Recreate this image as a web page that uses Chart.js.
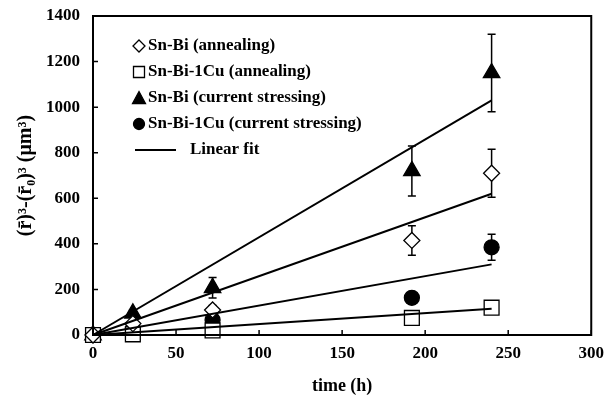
<!DOCTYPE html>
<html><head><meta charset="utf-8">
<script src="https://cdn.jsdelivr.net/npm/chart.js@4/dist/chart.umd.min.js"></script>
<style>html,body{margin:0;padding:0;background:#fff}#wrap{width:604px;height:401px}</style>
</head><body><div id="wrap"><canvas id="c" width="604" height="401"></canvas></div>
<script>
// ---- data ----
const times = [0, 24, 72, 192, 240];
const snBiAnneal = [0, 50, 110, 415, 710];
const snBiAnnealErr = [0, 10, 20, 65, 105];
const snBiCuAnneal = [0, 3, 20, 75, 120];
const snBiCuAnnealErr = [0, 0, 5, 8, 12];
const snBiCurrent = [0, 95, 207, 720, 1150];
const snBiCurrentErr = [0, 15, 45, 110, 170];
const snBiCuCurrent = [0, 26, 66, 163, 385];
const snBiCuCurrentErr = [0, 5, 10, 12, 57];
const fitX = [0, 240];
const fitSnBiAnneal = [0, 620];
const fitSnBiCuAnneal = [0, 115];
const fitSnBiCurrent = [0, 1030];
const fitSnBiCuCurrent = [0, 310];
const xTickLabels = ['0', '50', '100', '150', '200', '250', '300'];
const yTickLabels = ['0', '200', '400', '600', '800', '1000', '1200', '1400'];
const legendLabels = ['Sn-Bi (annealing)', 'Sn-Bi-1Cu (annealing)', 'Sn-Bi (current stressing)', 'Sn-Bi-1Cu (current stressing)', 'Linear fit'];
const xTitle = 'time (h)';
const yTitle = '(r\u0304)\u00b3-(r\u0304\u2080)\u00b3 (\u03bcm\u00b3)';

const SERIF = "'Liberation Serif', 'Times New Roman', serif";
const pts = (xs, ys) => xs.map((x, i) => ({x, y: ys[i]}));

const markerSets = [
  {label: legendLabels[0], ys: snBiAnneal, err: snBiAnnealErr, style: 'rectRot', r: 8, fill: '#fff'},
  {label: legendLabels[1], ys: snBiCuAnneal, err: snBiCuAnnealErr, style: 'rect', r: 10.5, fill: '#fff'},
  {label: legendLabels[2], ys: snBiCurrent, err: snBiCurrentErr, style: 'triangle', r: 9.5, fill: '#000'},
  {label: legendLabels[3], ys: snBiCuCurrent, err: snBiCuCurrentErr, style: 'circle', r: 7.5, fill: '#000'}
];
const fits = [fitSnBiAnneal, fitSnBiCuAnneal, fitSnBiCurrent, fitSnBiCuCurrent];

const datasets = [];
fits.forEach(f => datasets.push({
  type: 'line', data: pts(fitX, f), borderColor: '#000', borderWidth: 2,
  pointRadius: 0, fill: false, showLine: true, clip: false, order: 1
}));
markerSets.forEach(m => datasets.push({
  type: 'scatter', label: m.label, data: pts(times, m.ys), errs: m.err,
  pointStyle: m.style, pointRadius: m.r, pointHoverRadius: m.r,
  backgroundColor: m.fill, borderColor: '#000', borderWidth: 1.3,
  clip: false, order: 2
}));

const errorBars = {
  id: 'errorBars',
  beforeDatasetsDraw(chart) {
    const ctx = chart.ctx, xs = chart.scales.x, ys = chart.scales.y;
    ctx.save(); ctx.strokeStyle = '#000'; ctx.lineWidth = 1.5;
    chart.data.datasets.forEach(ds => {
      if (!ds.errs) return;
      ds.data.forEach((p, i) => {
        const e = ds.errs[i]; if (!e) return;
        const px = xs.getPixelForValue(p.x);
        const y1 = ys.getPixelForValue(p.y + e), y2 = ys.getPixelForValue(p.y - e);
        ctx.beginPath();
        ctx.moveTo(px, y1); ctx.lineTo(px, y2);
        ctx.moveTo(px - 4, y1); ctx.lineTo(px + 4, y1);
        ctx.moveTo(px - 4, y2); ctx.lineTo(px + 4, y2);
        ctx.stroke();
      });
    });
    ctx.restore();
  }
};

const frame = {
  id: 'frame',
  afterDraw(chart) {
    const ctx = chart.ctx, a = chart.chartArea, xs = chart.scales.x, ys = chart.scales.y;
    ctx.save(); ctx.strokeStyle = '#000'; ctx.lineWidth = 2;
    ctx.strokeRect(a.left, a.top, a.right - a.left, a.bottom - a.top);
    ctx.beginPath();
    xs.ticks.forEach(t => { const px = xs.getPixelForValue(t.value); ctx.moveTo(px, a.bottom); ctx.lineTo(px, a.bottom - 5); });
    ys.ticks.forEach(t => { const py = ys.getPixelForValue(t.value); ctx.moveTo(a.left, py); ctx.lineTo(a.left + 5, py); });
    ctx.lineWidth = 1.5; ctx.stroke();

    // legend (inside plot, upper left)
    const rows = [46, 72, 98, 124, 150];
    const mx = 139, tx = 148;
    ctx.font = 'bold 17px ' + SERIF; ctx.fillStyle = '#000'; ctx.textBaseline = 'middle'; ctx.textAlign = 'left';
    ctx.lineWidth = 1.3;
    markerSets.forEach((m, i) => {
      const y = rows[i];
      ctx.beginPath();
      if (m.style === 'rectRot') { const s = 6; ctx.moveTo(mx, y - s); ctx.lineTo(mx + s, y); ctx.lineTo(mx, y + s); ctx.lineTo(mx - s, y); ctx.closePath(); }
      else if (m.style === 'rect') { ctx.rect(mx - 5.5, y - 5.5, 11, 11); }
      else if (m.style === 'triangle') { ctx.moveTo(mx, y - 6.5); ctx.lineTo(mx + 6.5, y + 5.5); ctx.lineTo(mx - 6.5, y + 5.5); ctx.closePath(); }
      else { ctx.arc(mx, y, 5.5, 0, Math.PI * 2); }
      ctx.fillStyle = m.fill; ctx.fill(); ctx.strokeStyle = '#000'; ctx.stroke();
      ctx.fillStyle = '#000';
      ctx.fillText(m.label, tx, y);
    });
    ctx.beginPath(); ctx.lineWidth = 2; ctx.moveTo(135, rows[4]); ctx.lineTo(176, rows[4]); ctx.stroke();
    ctx.fillText(legendLabels[4], 190, rows[4]);
    ctx.restore();
  }
};

Chart.defaults.font.family = SERIF;
Chart.defaults.color = '#000';

new Chart(document.getElementById('c'), {
  data: {datasets},
  options: {
    responsive: false, animation: false, devicePixelRatio: 1,
    layout: {padding: {left: 0, right: 11, top: 16, bottom: 0}},
    plugins: {legend: {display: false}, tooltip: {enabled: false}},
    scales: {
      x: {
        type: 'linear', min: 0, max: 300,
        ticks: {stepSize: 50, padding: 0, font: {size: 17, weight: 'bold'}, color: '#000',
          callback: (v, i) => xTickLabels[i]},
        grid: {display: false}, border: {display: false},
        title: {display: true, text: xTitle, font: {size: 18, weight: 'bold'}, color: '#000', padding: {top: 0, bottom: 4}},
        afterFit: s => { s.height = 66; }
      },
      y: {
        type: 'linear', min: 0, max: 1400,
        ticks: {stepSize: 200, padding: 5, font: {size: 17, weight: 'bold'}, color: '#000',
          callback: (v, i) => yTickLabels[i]},
        grid: {display: false}, border: {display: false},
        title: {display: true, text: yTitle, font: {size: 20, weight: 'bold'}, color: '#000', padding: {top: 14, bottom: 0}},
        afterFit: s => { s.width = 93; }
      }
    }
  },
  plugins: [errorBars, frame]
});
</script></body></html>
